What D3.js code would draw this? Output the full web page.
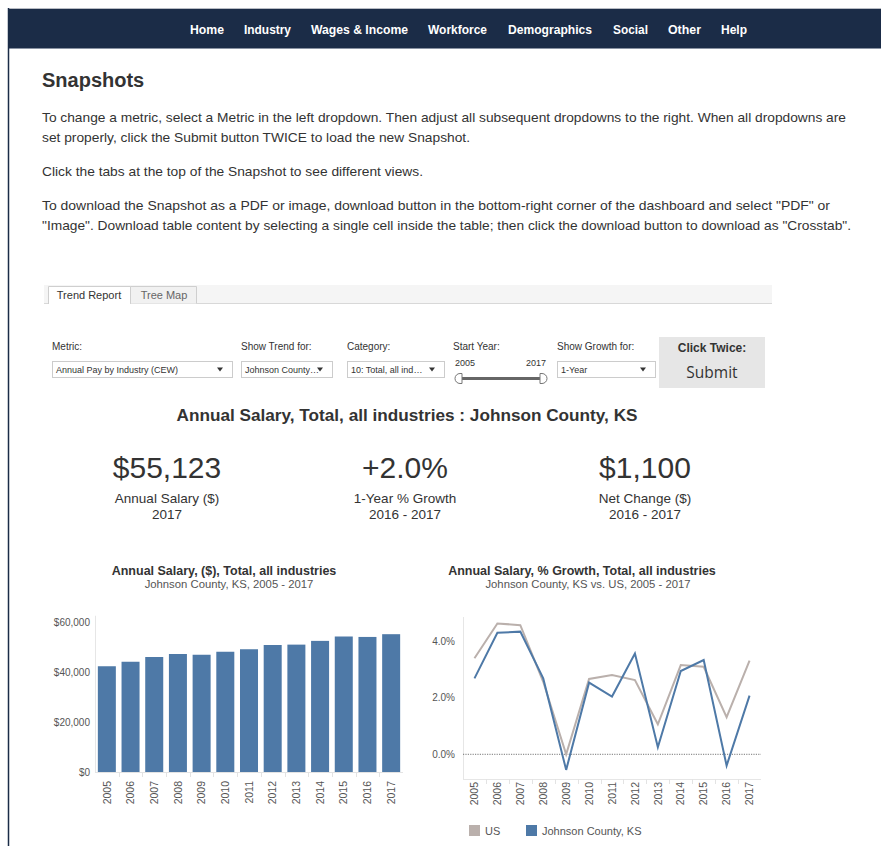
<!DOCTYPE html>
<html>
<head>
<meta charset="utf-8">
<script src="https://cdn.jsdelivr.net/npm/d3@7"></script>
<style>
html,body{margin:0;padding:0;background:#fff;}
svg{display:block;font-family:"Liberation Sans",Arial,Helvetica,sans-serif;}
</style>
</head>
<body>
<svg id="page" width="881" height="846"></svg>
<script>
// ---------- DATA ----------
const navItems = ["Home","Industry","Wages & Income","Workforce","Demographics","Social","Other","Help"];
const years = ["2005","2006","2007","2008","2009","2010","2011","2012","2013","2014","2015","2016","2017"];
const salaryJohnson = [42300,44100,46000,47200,46900,48100,49100,50800,50950,52450,54200,54023,55123];
const growthJohnson = [2.68,4.29,4.33,2.68,-0.55,2.53,2.04,3.56,0.25,2.94,3.33,-0.40,2.07];
const growthUS      = [3.39,4.62,4.56,2.56,0.00,2.66,2.80,2.62,1.06,3.15,3.09,1.31,3.31];
const barTicks = [0,20000,40000,60000];
const lineTicks = [0,2,4];
const kpiValues = ["$55,123","+2.0%","$1,100"];
const kpiLabels = ["Annual Salary ($)","1-Year % Growth","Net Change ($)"];
const kpiPeriods = ["2017","2016 - 2017","2016 - 2017"];
const paragraphs = [
  "To change a metric, select a Metric in the left dropdown. Then adjust all subsequent dropdowns to the right. When all dropdowns are",
  "set properly, click the Submit button TWICE to load the new Snapshot.",
  "Click the tabs at the top of the Snapshot to see different views.",
  "To download the Snapshot as a PDF or image, download button in the bottom-right corner of the dashboard and select \"PDF\" or",
  "\"Image\". Download table content by selecting a single cell inside the table; then click the download button to download as \"Crosstab\"."
];
const legendItems = ["US","Johnson County, KS"];

// ---------- STYLE ----------
const NAVY = "#1b2c47", BLUE = "#4e79a7", GRAY = "#bab0ac";
const svg = d3.select("#page");

// ---------- PAGE FRAME ----------
svg.append("rect").attr("x",8).attr("y",8).attr("width",873).attr("height",41).attr("fill",NAVY);
svg.append("line").attr("x1",8).attr("x2",881).attr("y1",8.5).attr("y2",8.5).attr("stroke","#b8bcc4");
svg.append("line").attr("x1",8).attr("x2",881).attr("y1",48.5).attr("y2",48.5).attr("stroke","#8a93a3");
svg.append("line").attr("x1",8.5).attr("x2",8.5).attr("y1",8).attr("y2",846).attr("stroke",NAVY).attr("stroke-width",1.5);

const navX = [190,244,311,428,508,613,668,721];
const navW = [34,47,97,59,84,35,33,26];
svg.append("g").selectAll("text").data(navItems).join("text")
  .attr("x",(d,i)=>navX[i]).attr("y",34).text(d=>d)
  .attr("fill","#fff").attr("font-weight","bold").attr("font-size",12.5)
  .attr("textLength",(d,i)=>navW[i]).attr("lengthAdjust","spacingAndGlyphs");

// ---------- HEADING + TEXT ----------
svg.append("text").attr("x",42).attr("y",87).text("Snapshots")
  .attr("font-weight","bold").attr("font-size",20).attr("fill","#333");
const pY = [122,142,176,210,230];
const pW = [804,428,381,788,809];
svg.append("g").selectAll("text").data(paragraphs).join("text")
  .attr("x",42).attr("y",(d,i)=>pY[i]).text(d=>d)
  .attr("font-size",13.5).attr("fill","#333")
  .attr("textLength",(d,i)=>pW[i]).attr("lengthAdjust","spacingAndGlyphs");

// ---------- TABS ----------
svg.append("rect").attr("x",44).attr("y",285).attr("width",728).attr("height",19).attr("fill","#f5f5f5");
svg.append("line").attr("x1",44).attr("x2",772).attr("y1",303.5).attr("y2",303.5).attr("stroke","#d8d8d8");
svg.append("path").attr("d","M48.5,304 V286.5 H130.5 V304").attr("fill","#fff").attr("stroke","#cfcfcf");
svg.append("path").attr("d","M130.5,303.5 V286.5 H196.5 V303.5").attr("fill","#f1f1f1").attr("stroke","#cfcfcf");
svg.append("text").attr("x",89).attr("y",299).attr("text-anchor","middle").text("Trend Report").attr("font-size",11).attr("fill","#333");
svg.append("text").attr("x",164).attr("y",299).attr("text-anchor","middle").text("Tree Map").attr("font-size",11).attr("fill","#666");

// ---------- CONTROLS ----------
const ctrlLabels = [["Metric:",52],["Show Trend for:",241],["Category:",347],["Start Year:",453],["Show Growth for:",557]];
svg.append("g").selectAll("text").data(ctrlLabels).join("text")
  .attr("x",d=>d[1]).attr("y",350).text(d=>d[0]).attr("font-size",10).attr("fill","#333");
const dropdowns = [["Annual Pay by Industry (CEW)",52,180],["Johnson County…",241,91],["10: Total, all ind…",347,97],["1-Year",557,98]];
const dd = svg.append("g").selectAll("g").data(dropdowns).join("g");
dd.append("rect").attr("x",d=>d[1]+0.5).attr("y",361.5).attr("width",d=>d[2]).attr("height",16)
  .attr("fill","#fff").attr("stroke","#cccccc");
dd.append("text").attr("x",d=>d[1]+4).attr("y",373).text(d=>d[0]).attr("font-size",9).attr("fill","#333");
dd.append("path").attr("d",d=>{const x=d[1]+d[2]-12;return `M${x-3},367.5 L${x+3},367.5 L${x},371.5 Z`;}).attr("fill","#333");
// slider
svg.append("text").attr("x",455).attr("y",366).text("2005").attr("font-size",9).attr("fill","#333");
svg.append("text").attr("x",546).attr("y",366).attr("text-anchor","end").text("2017").attr("font-size",9).attr("fill","#333");
svg.append("line").attr("x1",460).attr("x2",542).attr("y1",378.5).attr("y2",378.5).attr("stroke","#666").attr("stroke-width",3);
svg.append("path").attr("d","M462,373.5 H460 A5,5 0 0 0 460,383.5 H462 Z").attr("fill","#fff").attr("stroke","#777");
svg.append("path").attr("d","M540,373.5 H542 A5,5 0 0 1 542,383.5 H540 Z").attr("fill","#fff").attr("stroke","#777");
// submit
svg.append("rect").attr("x",659).attr("y",337).attr("width",106).attr("height",51).attr("fill","#e6e6e6");
svg.append("text").attr("x",712).attr("y",352).attr("text-anchor","middle").text("Click Twice:")
  .attr("font-weight","bold").attr("font-size",12).attr("fill","#333");
svg.append("text").attr("x",712).attr("y",378).attr("text-anchor","middle").text("Submit")
  .attr("font-family","'Open Sans',sans-serif").attr("font-size",15.5).attr("fill","#333");

// ---------- TITLE + KPIs ----------
svg.append("text").attr("x",407).attr("y",421).attr("text-anchor","middle")
  .text("Annual Salary, Total, all industries : Johnson County, KS")
  .attr("font-weight","bold").attr("font-size",16.5).attr("fill","#333")
  .attr("textLength",461).attr("lengthAdjust","spacingAndGlyphs");
const kpiX = [167,405,645];
const kg = svg.append("g").selectAll("g").data(kpiValues).join("g");
kg.append("text").attr("x",(d,i)=>kpiX[i]).attr("y",478).attr("text-anchor","middle").text(d=>d)
  .attr("font-size",30).attr("fill","#333");
kg.append("text").attr("x",(d,i)=>kpiX[i]).attr("y",503).attr("text-anchor","middle").text((d,i)=>kpiLabels[i])
  .attr("font-size",13.5).attr("fill","#333");
kg.append("text").attr("x",(d,i)=>kpiX[i]).attr("y",519).attr("text-anchor","middle").text((d,i)=>kpiPeriods[i])
  .attr("font-size",13.5).attr("fill","#333");

// ---------- BAR CHART ----------
svg.append("text").attr("x",224).attr("y",575).attr("text-anchor","middle").text("Annual Salary, ($), Total, all industries")
  .attr("font-weight","bold").attr("font-size",12.5).attr("fill","#333");
svg.append("text").attr("x",229).attr("y",588).attr("text-anchor","middle").text("Johnson County, KS, 2005 - 2017")
  .attr("font-size",11.3).attr("fill","#555");

const xb = d3.scaleBand().domain(years).range([95,403]).paddingInner(0.24).paddingOuter(0.12);
const yb = d3.scaleLinear().domain([0,60000]).range([772,622]);
const gb = svg.append("g");
gb.append("line").attr("x1",95.5).attr("x2",95.5).attr("y1",yb(62500)).attr("y2",772).attr("stroke","#e6e6e6");
gb.selectAll("rect.bar").data(years).join("rect").attr("class","bar")
  .attr("x",d=>xb(d)).attr("width",xb.bandwidth())
  .attr("y",(d,i)=>yb(salaryJohnson[i])).attr("height",(d,i)=>yb(0)-yb(salaryJohnson[i]))
  .attr("fill",BLUE);
gb.append("line").attr("x1",95).attr("x2",403).attr("y1",772.5).attr("y2",772.5).attr("stroke","#e3e3e3");
const yAxB = d3.axisLeft(yb).tickValues(barTicks).tickSize(0).tickPadding(0).tickFormat(d=>"$"+d3.format(",")(d));
gb.append("g").attr("transform","translate(90,0)").call(yAxB)
  .call(g=>g.select(".domain").remove())
  .call(g=>g.selectAll("text").attr("font-size",10).attr("fill","#555").attr("font-family","'Liberation Sans',Arial,sans-serif"));
const xAxB = d3.axisBottom(xb).tickSize(0).tickPadding(0);
gb.append("g").attr("transform","translate(0,781)").call(xAxB)
  .call(g=>g.select(".domain").remove())
  .call(g=>g.selectAll("text").attr("transform","rotate(-90)").attr("text-anchor","end")
     .attr("dy","0.35em").attr("dx",0).attr("y",0).attr("x",0)
     .attr("font-size",10.5).attr("fill","#555").attr("font-family","'Liberation Sans',Arial,sans-serif"));
// column separators
gb.selectAll("line.sep").data(years.slice(1)).join("line").attr("class","sep")
  .attr("x1",d=>Math.round(xb(d)-xb.step()*xb.paddingInner()/2)+0.5)
  .attr("x2",d=>Math.round(xb(d)-xb.step()*xb.paddingInner()/2)+0.5)
  .attr("y1",772).attr("y2",777).attr("stroke","#e3e3e3");

// ---------- LINE CHART ----------
svg.append("text").attr("x",582).attr("y",575).attr("text-anchor","middle").text("Annual Salary, % Growth, Total, all industries")
  .attr("font-weight","bold").attr("font-size",12.5).attr("fill","#333");
svg.append("text").attr("x",588).attr("y",588).attr("text-anchor","middle").text("Johnson County, KS vs. US, 2005 - 2017")
  .attr("font-size",11.3).attr("fill","#555");

const xl = d3.scaleBand().domain(years).range([463,761]);
const yl = d3.scaleLinear().domain([0,4]).range([754.3,641]);
const gl = svg.append("g");
gl.append("line").attr("x1",463.5).attr("x2",463.5).attr("y1",617).attr("y2",779).attr("stroke","#e6e6e6");
gl.append("line").attr("x1",463).attr("x2",761).attr("y1",779.5).attr("y2",779.5).attr("stroke","#e6e6e6");
gl.selectAll("line.sep").data(years.slice(1)).join("line").attr("class","sep")
  .attr("x1",d=>Math.round(xl(d))+0.5).attr("x2",d=>Math.round(xl(d))+0.5)
  .attr("y1",779).attr("y2",784).attr("stroke","#e3e3e3");
gl.append("line").attr("x1",463).attr("x2",761).attr("y1",yl(0)).attr("y2",yl(0))
  .attr("stroke","#555").attr("stroke-width",0.8).attr("stroke-dasharray","1.2,1.2");
const yAxL = d3.axisLeft(yl).tickValues(lineTicks).tickSize(0).tickPadding(0).tickFormat(d=>d3.format(".1f")(d)+"%");
gl.append("g").attr("transform","translate(455,0)").call(yAxL)
  .call(g=>g.select(".domain").remove())
  .call(g=>g.selectAll("text").attr("font-size",10).attr("fill","#555").attr("font-family","'Liberation Sans',Arial,sans-serif"));
const xAxL = d3.axisBottom(xl).tickSize(0).tickPadding(0);
gl.append("g").attr("transform","translate(0,782)").call(xAxL)
  .call(g=>g.select(".domain").remove())
  .call(g=>g.selectAll("text").attr("transform","rotate(-90)").attr("text-anchor","end")
     .attr("dy","0.35em").attr("dx",0).attr("y",0).attr("x",0)
     .attr("font-size",10.5).attr("fill","#555").attr("font-family","'Liberation Sans',Arial,sans-serif"));
const lineGen = vals => d3.line().x((d,i)=>xl(years[i])+xl.bandwidth()/2).y(d=>yl(d))(vals);
gl.append("path").attr("d",lineGen(growthUS)).attr("fill","none").attr("stroke",GRAY).attr("stroke-width",2);
gl.append("path").attr("d",lineGen(growthJohnson)).attr("fill","none").attr("stroke",BLUE).attr("stroke-width",2);

// legend
const legX = [469,526];
const lg = svg.append("g").selectAll("g").data(legendItems).join("g");
lg.append("rect").attr("x",(d,i)=>legX[i]).attr("y",825).attr("width",11).attr("height",11).attr("fill",(d,i)=>i?BLUE:GRAY);
lg.append("text").attr("x",(d,i)=>legX[i]+16).attr("y",834.5).text(d=>d).attr("font-size",11).attr("fill","#555");
</script>
</body>
</html>
